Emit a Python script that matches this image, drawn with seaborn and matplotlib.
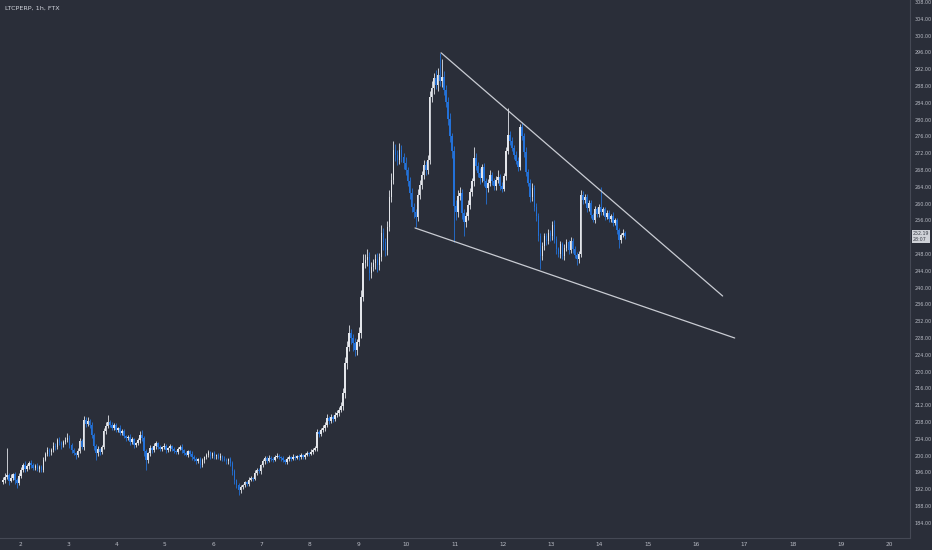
import numpy as np
import pandas as pd
import matplotlib
matplotlib.use("Agg")
import matplotlib.pyplot as plt
import seaborn as sns

# --- data (LTC perpetual, 1h candles) ---
title = "LTCPERP, 1h, FTX"
start_day = 1.65          # day-of-month of the first candle
first_open = 193.8

closes = [
    194.2, 195.0, 195.4, 194.0, 194.7, 195.5, 194.1, 193.5, 195.2, 196.6,
    197.8, 196.9, 197.5, 198.2, 197.8, 197.1, 197.6, 196.8, 197.3, 196.6,
    199.0, 200.4, 201.3, 200.8, 201.3, 202.4, 202.0, 203.7, 203.1, 202.5,
    203.3, 203.8, 204.2, 202.6, 201.3, 200.6, 200.1, 201.2, 203.5, 202.0,
    208.5, 207.6, 208.2, 207.3, 205.0, 202.3, 200.6, 201.5, 200.9, 202.0,
    205.8, 207.1, 208.0, 207.4, 206.6, 207.3, 206.2, 206.6, 205.4, 205.9,
    204.6, 204.1, 204.5, 203.2, 203.9, 202.6, 203.0, 203.6, 204.9, 204.2,
    201.0, 199.0, 200.5, 201.9, 201.3, 202.3, 203.0, 202.1, 201.6, 202.0,
    202.4, 201.3, 201.7, 202.2, 201.5, 201.1, 200.9, 201.6, 202.1, 201.3,
    200.7, 200.2, 201.0, 200.4, 199.7, 199.1, 198.6, 199.2, 197.8, 198.9,
    199.6, 200.1, 200.8, 199.9, 200.5, 199.8, 200.1, 199.5, 199.9, 199.3,
    199.0, 198.6, 199.1, 198.2, 196.3, 194.2, 193.1, 191.8, 192.6, 193.0,
    193.6, 193.3, 194.3, 194.7, 194.4, 195.9, 196.6, 196.3, 197.8, 198.6,
    199.4, 198.8, 199.5, 199.2, 199.0, 199.7, 200.0, 199.6, 199.4, 198.9,
    198.5, 199.2, 199.6, 199.3, 199.7, 199.5, 199.9, 199.6, 200.1, 199.7,
    200.2, 200.6, 200.4, 200.9, 201.4, 201.8, 205.6, 205.2, 206.1, 206.6,
    207.4, 208.9, 208.3, 209.2, 208.8, 209.7, 210.2, 210.9, 211.8, 214.9,
    222.0, 225.9, 229.2, 228.1, 226.8, 225.1, 227.0, 229.2, 237.8, 245.9,
    246.6, 247.3, 243.5, 244.8, 245.9, 246.8, 245.4, 247.3, 253.0, 250.8,
    249.0, 254.4, 261.6, 265.6, 272.8, 271.5, 270.4, 272.8, 271.2, 269.7,
    268.0, 265.4, 262.5, 259.2, 257.9, 256.8, 262.0, 264.5, 266.8, 269.2,
    268.0, 270.4, 285.4, 287.5, 289.9, 288.2, 290.6, 289.2, 290.1, 287.0,
    284.3, 280.2, 276.0, 272.6, 259.5, 258.0, 261.8, 262.6, 257.8, 255.6,
    257.0, 259.6, 262.8, 265.3, 270.9, 269.0, 267.2, 266.0, 268.6, 265.3,
    263.7, 264.9, 266.8, 265.5, 264.1, 265.6, 266.4, 264.2, 263.5, 266.5,
    272.5, 276.3, 274.9, 273.2, 271.5, 270.2, 268.8, 278.2, 276.0, 272.4,
    267.5, 265.0, 261.5, 263.8, 259.2, 257.0, 252.4, 247.6, 249.8, 252.3,
    251.0, 253.1, 252.2, 255.0, 251.5, 249.2, 248.0, 250.3, 247.6, 249.5,
    250.8, 248.9, 251.2, 249.3, 247.8, 246.8, 248.1, 262.0, 260.8, 261.5,
    258.9, 260.2, 257.3, 256.2, 258.6, 257.5, 259.2, 258.0, 258.6, 256.9,
    257.8, 256.4, 257.1, 255.5, 256.0, 253.6, 251.3, 252.5, 253.0, 252.19,
]

upper_wick = [
    0.6, 0.8, 6.4, 0.5, 0.9, 0.4, 0.7, 0.5, 0.6, 0.8,
    0.5, 0.9, 0.4, 0.6, 0.7, 0.5, 0.3, 0.6, 0.4, 0.5,
    0.7, 0.5, 0.8, 0.6, 0.4, 0.9, 0.5, 0.6, 0.8, 0.4,
    0.5, 0.7, 1.1, 0.6, 0.4, 0.5, 0.3, 0.6, 0.8, 0.5,
    1.0, 0.7, 0.9, 0.5, 0.6, 0.4, 0.5, 0.7, 0.4, 0.6,
    0.8, 0.9, 1.7, 0.5, 0.6, 0.4, 0.5, 0.3, 0.6, 0.4,
    0.5, 0.3, 0.4, 0.6, 0.5, 0.4, 0.3, 0.7, 0.9, 1.2,
    0.5, 0.6, 0.4, 0.7, 0.5, 0.6, 0.4, 0.3, 0.5, 0.4,
    0.6, 0.4, 0.3, 0.5, 0.4, 0.6, 0.3, 0.5, 0.4, 0.6,
    0.3, 0.5, 0.4, 0.3, 0.6, 0.4, 0.5, 0.3, 0.4, 0.5,
    0.4, 0.6, 0.5, 0.3, 0.4, 0.5, 0.3, 0.4, 0.6, 0.3,
    0.5, 0.4, 0.3, 0.5, 0.4, 0.6, 0.3, 0.4, 0.5, 0.3,
    0.4, 0.3, 0.5, 0.4, 0.3, 0.6, 0.4, 0.5, 0.3, 0.6,
    0.5, 0.4, 0.6, 0.3, 0.5, 0.4, 0.6, 0.3, 0.4, 0.5,
    0.3, 0.4, 0.5, 0.3, 0.6, 0.4, 0.3, 0.5, 0.4, 0.3,
    0.5, 0.4, 0.3, 0.6, 0.4, 0.5, 0.7, 0.6, 0.5, 0.8,
    0.6, 0.9, 0.5, 0.7, 0.4, 0.8, 0.6, 0.7, 0.9, 1.2,
    1.5, 1.3, 1.8, 1.0, 0.9, 1.2, 0.8, 1.4, 1.6, 2.0,
    1.5, 1.8, 1.1, 1.3, 0.9, 1.2, 1.4, 1.0, 1.9, 1.2,
    1.0, 1.5, 1.6, 1.8, 2.2, 1.4, 1.2, 1.7, 1.1, 0.9,
    1.3, 0.8, 1.0, 1.2, 0.9, 0.7, 1.4, 1.1, 0.9, 1.3,
    1.0, 1.2, 1.5, 1.8, 1.3, 2.0, 1.6, 5.3, 4.4, 1.5,
    1.2, 1.0, 1.4, 0.9, 1.1, 1.3, 1.5, 1.4, 0.8, 1.0,
    0.9, 1.2, 1.0, 0.8, 2.6, 1.1, 0.9, 1.3, 0.8, 1.0,
    0.7, 0.9, 1.1, 0.8, 0.6, 1.0, 1.6, 0.7, 0.9, 0.8,
    1.0, 6.5, 1.1, 0.9, 0.7, 1.0, 0.8, 0.7, 1.2, 0.9,
    1.1, 0.8, 0.9, 1.2, 0.7, 0.9, 0.8, 0.6, 1.0, 0.8,
    0.7, 0.9, 0.6, 0.8, 1.0, 0.7, 0.5, 0.9, 0.6, 0.8,
    0.7, 0.6, 0.8, 0.5, 0.7, 0.6, 0.5, 1.2, 0.9, 0.7,
    0.8, 0.6, 0.7, 0.5, 0.9, 0.6, 0.7, 4.8, 0.6, 0.5,
    0.7, 0.6, 0.5, 0.8, 0.6, 0.5, 0.7, 0.6, 0.9, 0.5,
]

lower_wick = [
    0.5, 0.7, 0.6, 0.9, 0.4, 0.6, 0.8, 1.2, 0.5, 0.6,
    0.4, 0.7, 0.5, 0.6, 0.8, 0.5, 0.6, 0.4, 0.7, 0.5,
    0.6, 0.4, 0.5, 0.8, 0.6, 0.4, 0.7, 0.5, 0.6, 0.9,
    0.4, 0.6, 0.5, 0.7, 0.8, 0.5, 0.9, 0.4, 0.6, 0.5,
    0.6, 0.8, 0.5, 0.7, 0.9, 1.0, 1.6, 0.6, 0.8, 0.5,
    0.4, 0.6, 0.5, 0.7, 0.4, 0.6, 0.5, 0.7, 0.4, 0.6,
    0.5, 0.7, 0.4, 0.6, 0.5, 0.8, 0.6, 0.4, 0.5, 0.7,
    1.0, 2.4, 0.8, 0.5, 0.6, 0.4, 0.7, 0.5, 0.6, 0.4,
    0.5, 0.7, 0.4, 0.6, 0.5, 0.4, 0.6, 0.5, 0.3, 0.6,
    0.5, 0.4, 0.6, 0.5, 0.7, 0.5, 0.6, 0.4, 0.8, 0.5,
    0.6, 0.4, 0.5, 0.6, 0.4, 0.5, 0.6, 0.4, 0.5, 0.6,
    0.4, 0.6, 0.5, 0.7, 0.9, 1.0, 0.8, 1.2, 0.6, 0.5,
    0.4, 0.5, 0.6, 0.4, 0.5, 0.3, 0.5, 0.4, 0.6, 0.4,
    0.5, 0.6, 0.4, 0.5, 0.6, 0.4, 0.3, 0.5, 0.6, 0.4,
    0.5, 0.4, 0.6, 0.5, 0.3, 0.5, 0.4, 0.6, 0.5, 0.4,
    0.6, 0.4, 0.5, 0.3, 0.5, 0.4, 0.6, 0.8, 0.5, 0.6,
    0.7, 0.5, 0.8, 0.6, 0.7, 0.5, 0.6, 0.8, 0.5, 0.9,
    1.1, 1.4, 1.0, 1.6, 1.8, 1.3, 1.1, 0.9, 1.2, 1.0,
    1.3, 1.5, 1.7, 1.2, 0.9, 1.4, 1.6, 1.1, 1.0, 1.8,
    1.5, 1.2, 0.9, 1.1, 1.0, 1.4, 1.3, 0.9, 1.2, 1.5,
    1.1, 1.3, 1.5, 1.2, 1.4, 2.4, 1.0, 0.8, 1.1, 0.9,
    1.2, 1.0, 0.9, 1.1, 1.4, 1.0, 1.3, 1.2, 1.5, 1.1,
    1.4, 1.6, 1.3, 1.8, 8.6, 1.9, 1.2, 1.0, 1.5, 3.2,
    1.1, 0.8, 1.0, 0.9, 1.2, 1.0, 0.8, 1.3, 0.9, 1.1,
    3.7, 0.9, 0.7, 1.0, 0.8, 0.9, 0.7, 1.0, 0.8, 0.6,
    0.9, 0.8, 1.0, 0.7, 0.9, 0.8, 1.1, 0.7, 0.9, 1.2,
    1.0, 0.9, 1.1, 0.8, 1.0, 1.2, 1.3, 3.2, 1.0, 0.8,
    0.9, 0.7, 1.0, 0.8, 0.9, 1.1, 0.8, 0.9, 0.7, 1.0,
    0.8, 0.9, 0.7, 1.0, 0.8, 1.4, 0.9, 0.7, 0.8, 0.6,
    0.9, 0.7, 0.8, 0.6, 0.9, 0.7, 0.8, 0.6, 0.7, 0.8,
    0.6, 0.8, 0.7, 0.9, 0.6, 0.8, 1.9, 0.7, 0.5, 0.6,
]

# falling wedge drawn on the chart
upper_line_days = [10.72, 16.55]
upper_line_prices = [295.9, 238.0]
lower_line_days = [10.18, 16.80]
lower_line_prices = [254.2, 228.0]

last_price_label = "252.19"
countdown_label = "28:07"
day_ticks = list(range(2, 21))
# the 252 level is hidden behind the last-price tag
price_ticks = [p for p in range(184, 309, 4) if p != 252]

# --- colours ---
BG = "#2a2e39"
UP = "#e3e5ea"
DOWN = "#2371d8"
TEXT = "#b8bbc4"
EDGE = "#454955"
LINE = "#c9ccd3"

# --- build OHLC table ---
df = pd.DataFrame({"close": closes, "up_w": upper_wick, "lo_w": lower_wick})
df["day"] = start_day + np.arange(len(df)) / 24
df["open"] = df["close"].shift(1).fillna(first_open)
df["top"] = df[["open", "close"]].max(axis=1)
df["bot"] = df[["open", "close"]].min(axis=1)
df["high"] = df["top"] + df["up_w"]
df["low"] = df["bot"] - df["lo_w"]
df["color"] = np.where(df["close"] >= df["open"], UP, DOWN)

wedge = pd.concat([
    pd.DataFrame({"day": upper_line_days, "price": upper_line_prices, "side": "upper"}),
    pd.DataFrame({"day": lower_line_days, "price": lower_line_prices, "side": "lower"}),
])

sns.set_theme(style="dark", rc={
    "axes.facecolor": BG,
    "figure.facecolor": BG,
    "axes.edgecolor": EDGE,
    "text.color": TEXT,
    "xtick.color": TEXT,
    "ytick.color": TEXT,
})
plt.rcParams["font.family"] = ["DejaVu Sans"]

fig = plt.figure(figsize=(9.32, 5.5), dpi=100)
ax = fig.add_axes([0, 12 / 550, 910 / 932, 538 / 550])

# wicks then bodies
ax.vlines(df["day"], df["low"], df["high"], colors=df["color"], linewidth=0.6, zorder=2)
ax.bar(df["day"], (df["top"] - df["bot"]).clip(lower=0.2), bottom=df["bot"],
       width=0.032, color=df["color"], linewidth=0, zorder=3)

sns.lineplot(data=wedge, x="day", y="price", units="side", estimator=None,
             color=LINE, linewidth=0.9, ax=ax, zorder=4)

ax.set_xlim(1.586, 20.43)
ax.set_ylim(180.38, 308.48)
ax.set_xticks(day_ticks)
ax.set_xticklabels([str(d) for d in day_ticks], fontsize=4.2)
ax.yaxis.tick_right()
ax.set_yticks(price_ticks)
ax.set_yticklabels([f"{p:.2f}" for p in price_ticks], fontsize=3.5)
ax.tick_params(axis="x", length=0, pad=3)
ax.tick_params(axis="y", length=0, pad=3)
ax.set_xlabel("")
ax.set_ylabel("")
ax.grid(False)
for side in ["left", "top"]:
    ax.spines[side].set_visible(False)
for side in ["right", "bottom"]:
    ax.spines[side].set_color(EDGE)
    ax.spines[side].set_linewidth(0.8)

ax.text(0.005, 0.99, title, transform=ax.transAxes, fontsize=4.6,
        color="#d1d4dc", ha="left", va="top")

# last price tag on the price scale
ax.annotate(f"{last_price_label}\n{countdown_label}", xy=(1.0, float(last_price_label)),
            xycoords=("axes fraction", "data"), xytext=(2, 0), textcoords="offset points",
            fontsize=3.4, color="#3a3e48", ha="left", va="center", linespacing=1.1,
            bbox=dict(boxstyle="square,pad=0.25", fc="#cfd2d8", ec="none"),
            annotation_clip=False, zorder=6)

fig.savefig("out.png", dpi=100, facecolor=BG)
